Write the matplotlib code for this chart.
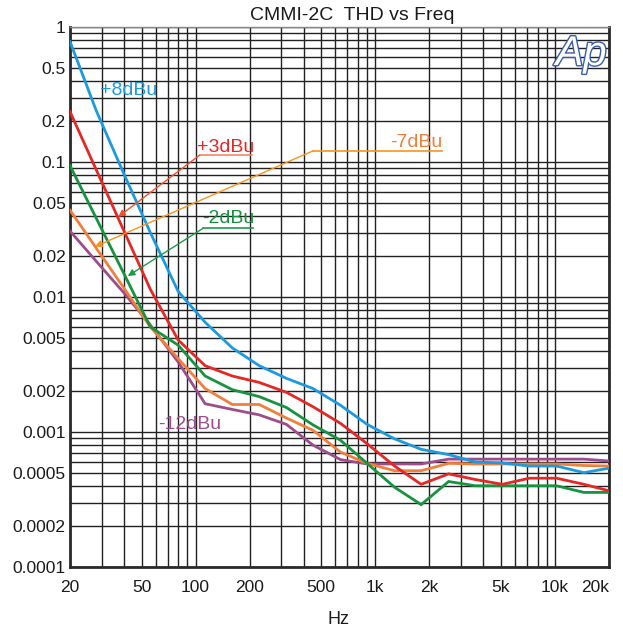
import matplotlib
matplotlib.use("Agg")
import matplotlib.pyplot as plt
import matplotlib.patheffects as pe
from matplotlib.ticker import FixedLocator, NullFormatter, LogLocator

plt.rcParams["font.family"] = ["Liberation Sans", "DejaVu Sans"]

# measurement frequencies (half-octave steps), Hz
freq = [20, 28, 40, 56, 80, 113, 160, 226, 320, 450, 640, 900,
        1280, 1800, 2560, 3600, 5100, 7200, 10200, 14500, 20000]

# THD (ratio) per level
thd_p8 = [0.78, 0.24, 0.081, 0.030, 0.011, 0.0065, 0.0042, 0.0031, 0.0025,
          0.0021, 0.00158, 0.00114, 0.00089, 0.000745, 0.00068, 0.0006,
          0.00059, 0.00056, 0.00056, 0.0005, 0.00054]
thd_p3 = [0.236, 0.0875, 0.0307, 0.0114, 0.0048, 0.0031, 0.0026, 0.00233,
          0.00197, 0.00154, 0.00116, 0.00082, 0.00056, 0.00041, 0.00049,
          0.000445, 0.00041, 0.000455, 0.000455, 0.00041, 0.000367]
thd_m2 = [0.094, 0.0383, 0.0148, 0.0060, 0.0044, 0.0026, 0.00206, 0.00183,
          0.00152, 0.00113, 0.00087, 0.000586, 0.00039, 0.00029, 0.00043,
          0.0004, 0.0004, 0.0004, 0.0004, 0.000357, 0.000357]
thd_m7 = [0.044, 0.023, 0.0116, 0.006, 0.0035, 0.0021, 0.0016, 0.0016,
          0.00127, 0.00103, 0.00071, 0.000586, 0.000517, 0.000517, 0.000586,
          0.00058, 0.00058, 0.00058, 0.00058, 0.000565, 0.00056]
thd_m12 = [0.0308, 0.0184, 0.0107, 0.0062, 0.0033, 0.00162, 0.00147, 0.00134,
           0.00114, 0.0008, 0.000625, 0.00058, 0.00058, 0.00058, 0.00063,
           0.00063, 0.00063, 0.00063, 0.00063, 0.00063, 0.00061]

x_ticks = [20, 50, 100, 200, 500, 1000, 2000, 5000, 10000, 20000]
x_labels = ["20", "50", "100", "200", "500", "1k", "2k", "5k", "10k", "20k"]
y_ticks = [0.0001, 0.0002, 0.0005, 0.001, 0.002, 0.005, 0.01, 0.02, 0.05,
           0.1, 0.2, 0.5, 1]
y_labels = ["0.0001", "0.0002", "0.0005", "0.001", "0.002", "0.005", "0.01",
            "0.02", "0.05", "0.1", "0.2", "0.5", "1"]

BLUE = "#1B9AE0"
RED = "#E32826"
GREEN = "#17923F"
ORANGE = "#F07F3C"
PURPLE = "#9D4C8C"

fig = plt.figure(figsize=(6.23, 6.32), dpi=100)
ax = fig.add_axes([0.1124, 0.1028, 0.8652, 0.8544])
ax.set_xscale("log")
ax.set_yscale("log")
ax.set_xlim(20, 20000)
ax.set_ylim(0.0001, 1)

ax.xaxis.set_major_locator(FixedLocator(x_ticks))
ax.set_xticklabels(x_labels)
ax.yaxis.set_major_locator(FixedLocator(y_ticks))
ax.set_yticklabels(y_labels)
ax.xaxis.set_minor_locator(LogLocator(base=10, subs=range(1, 10), numticks=20))
ax.yaxis.set_minor_locator(LogLocator(base=10, subs=range(1, 10), numticks=20))
ax.xaxis.set_minor_formatter(NullFormatter())
ax.yaxis.set_minor_formatter(NullFormatter())
ax.tick_params(which="both", length=0, labelsize=12.5, colors="#1a1a1a")
ax.tick_params(axis="x", pad=9)
ax.tick_params(axis="y", pad=3)
ax.get_xticklabels()[-1].set_horizontalalignment("right")

ax.grid(True, which="both", color="#222222", lw=1.0)
ax.set_axisbelow(True)
for side in ("left", "bottom", "right"):
    ax.spines[side].set_color("#2a2a2a")
    ax.spines[side].set_linewidth(2.0)
ax.spines["top"].set_color("#888888")
ax.spines["top"].set_linewidth(1.0)

for vals, col in ((thd_m12, PURPLE), (thd_m7, ORANGE), (thd_m2, GREEN),
                  (thd_p3, RED), (thd_p8, BLUE)):
    ax.plot(freq, vals, color=col, lw=2.0, solid_joinstyle="miter", zorder=3)

# labels and callouts
ax.text(29.4, 0.337, "+8dBu", color=BLUE, fontsize=14, va="center", ha="left")

ax.text(101.8, 0.129, "+3dBu", color=RED, fontsize=14, va="center", ha="left")
ax.plot([105.5, 206], [0.1127, 0.1127], color="#F28866", lw=1.2)
ax.annotate("", xy=(37.1, 0.0393), xytext=(105.5, 0.1127),
            arrowprops=dict(arrowstyle="-|>", color="#F0522A", lw=1.0,
                            mutation_scale=10, shrinkA=0, shrinkB=0))

ax.text(1207, 0.1406, "-7dBu", color=ORANGE, fontsize=14, va="center", ha="left")
ax.plot([450, 2350], [0.121, 0.121], color="#F7941E", lw=1.2)
ax.annotate("", xy=(27.5, 0.0236), xytext=(450, 0.121),
            arrowprops=dict(arrowstyle="-|>", color="#F7941E", lw=1.0,
                            mutation_scale=10, shrinkA=0, shrinkB=0))

ax.text(108.5, 0.0385, "-2dBu", color=GREEN, fontsize=14, va="center", ha="left")
ax.plot([110, 209], [0.0323, 0.0323], color="#1E9A4A", lw=1.2)
ax.annotate("", xy=(41.9, 0.0143), xytext=(110, 0.0323),
            arrowprops=dict(arrowstyle="-|>", color="#1E9A4A", lw=1.0,
                            mutation_scale=10, shrinkA=0, shrinkB=0))

ax.text(61.8, 0.00114, "-12dBu", color=PURPLE, fontsize=14, va="center", ha="left")

# Ap logo
ax.text(0.948, 0.9296, "Ap", transform=ax.transAxes, fontsize=30,
        fontstyle="italic", color="white", ha="center", va="baseline",
        path_effects=[pe.withStroke(linewidth=2.0, foreground="#3A5BA8")],
        zorder=5)

fig.text(0.565, 0.976, "CMMI-2C  THD vs Freq", fontsize=14, ha="center",
         va="center", color="#1a1a1a")
fig.text(0.544, 0.019, "Hz", fontsize=13, ha="center", va="center",
         color="#1a1a1a")

fig.savefig("out.png", dpi=100)
